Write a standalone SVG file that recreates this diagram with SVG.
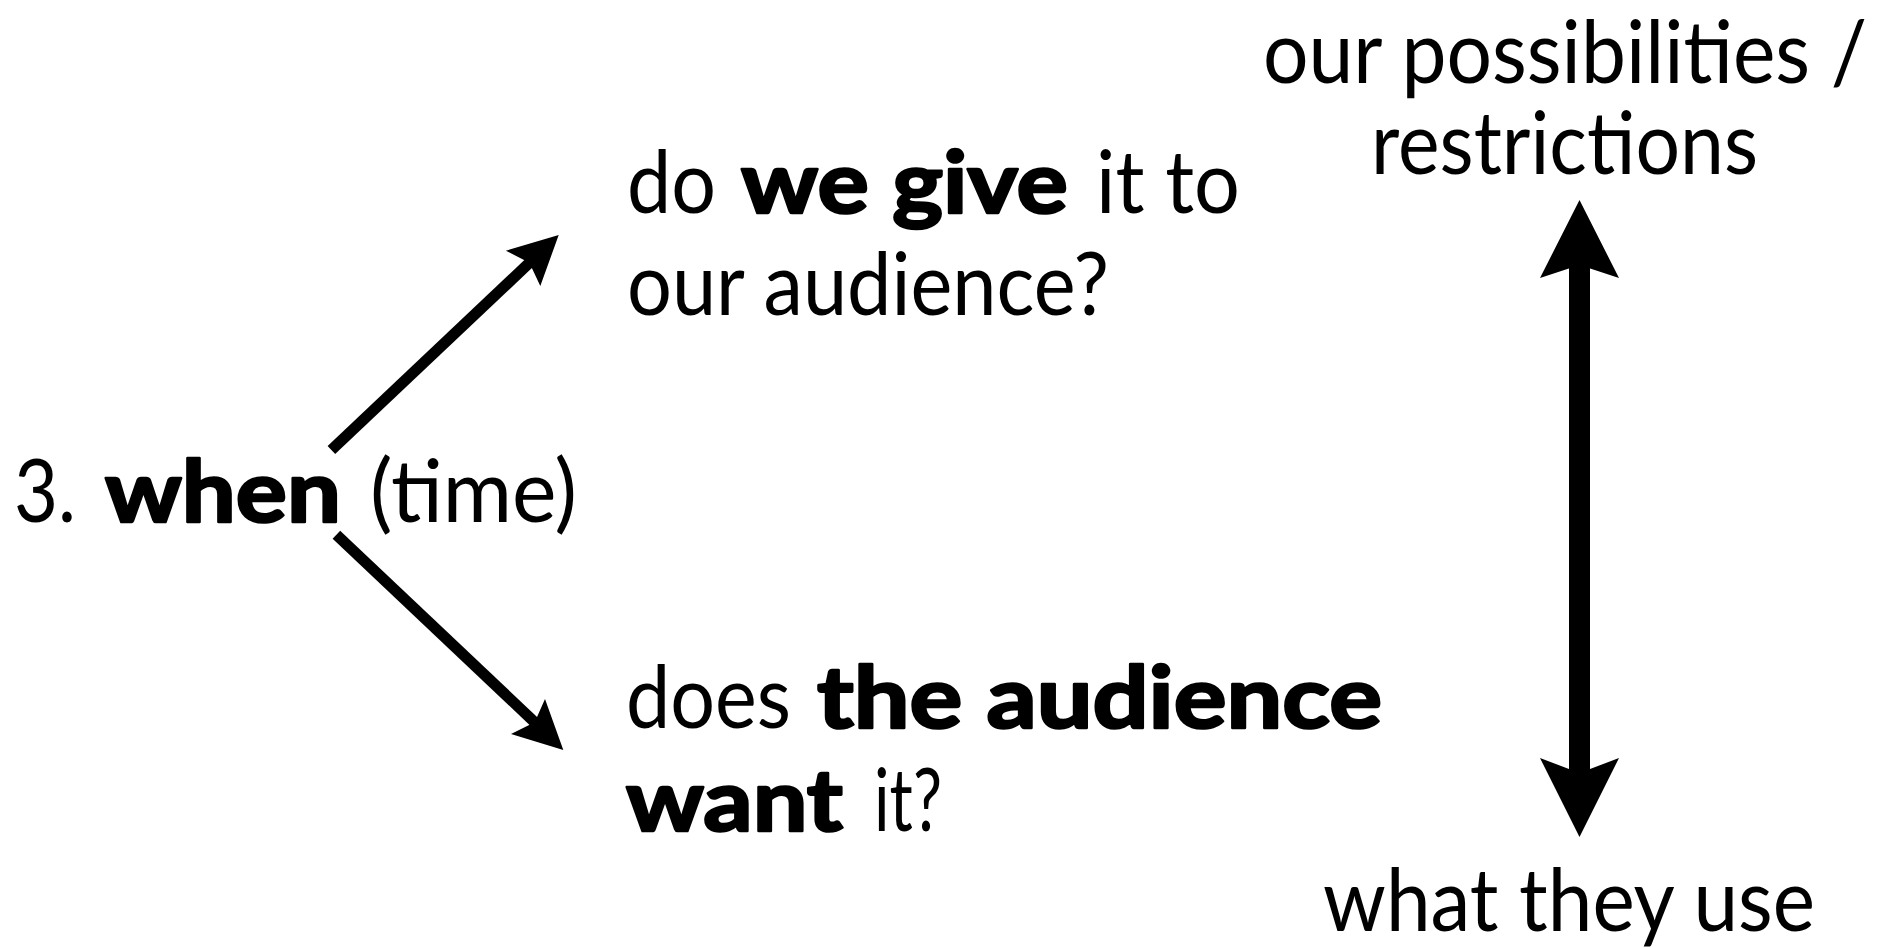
<svg xmlns="http://www.w3.org/2000/svg" width="1887" height="948" viewBox="0 0 1887 948">
<style>
text{font-family:Lato,"Open Sans","Liberation Sans",sans-serif;font-size:87px;fill:#000}
.b{font-weight:700;stroke:#000;stroke-width:2.6;stroke-linejoin:round}
.shaft{stroke:#000;fill:none}
.head{fill:#000}
</style>
<rect width="1887" height="948" fill="#fff"/>
<g id="when">
<text x="14" y="522" textLength="62" lengthAdjust="spacingAndGlyphs">3.</text>
<text class="b" x="105" y="522" textLength="236" lengthAdjust="spacingAndGlyphs">when</text>
<text x="370" y="522" textLength="207" lengthAdjust="spacingAndGlyphs">(time)</text>
</g>
<g id="give">
<text x="627" y="213" textLength="89" lengthAdjust="spacingAndGlyphs">do</text>
<text class="b" x="741" y="213" textLength="327" lengthAdjust="spacingAndGlyphs">we give</text>
<text x="1096" y="213" textLength="144" lengthAdjust="spacingAndGlyphs">it to</text>
<text x="627" y="315" textLength="482" lengthAdjust="spacingAndGlyphs">our audience?</text>
</g>
<g id="want">
<text x="626" y="728" textLength="165" lengthAdjust="spacingAndGlyphs">does</text>
<text class="b" x="817" y="728" textLength="565" lengthAdjust="spacingAndGlyphs">the audience</text>
<text class="b" x="626" y="831" textLength="217" lengthAdjust="spacingAndGlyphs">want</text>
<text x="874" y="831" textLength="68" lengthAdjust="spacingAndGlyphs">it?</text>
</g>
<g id="possibilities">
<text x="1263" y="83" textLength="604" lengthAdjust="spacingAndGlyphs">our possibilities /</text>
<text x="1371" y="174" textLength="387" lengthAdjust="spacingAndGlyphs">restrictions</text>
</g>
<g id="use">
<text x="1323" y="931" textLength="492" lengthAdjust="spacingAndGlyphs">what they use</text>
</g>
<g id="connectors">
<line class="shaft" stroke-width="11" x1="331.4" y1="450" x2="530.5" y2="261.8"/>
<polygon class="head" points="558.7,235 505.9,250.7 529.4,262.8 540.3,286"/>
<line class="shaft" stroke-width="11" x1="336.4" y1="534.7" x2="535.7" y2="723.2"/>
<polygon class="head" points="563.3,750 511,734 534.7,722.2 545,699"/>
<line class="shaft" stroke-width="21" x1="1579.5" y1="264" x2="1579.5" y2="774"/>
<polygon class="head" points="1579.5,200 1540,278 1579.5,265 1619,278"/>
<polygon class="head" points="1579.5,837 1540,758 1579.5,773 1619,758"/>
</g>
</svg>
